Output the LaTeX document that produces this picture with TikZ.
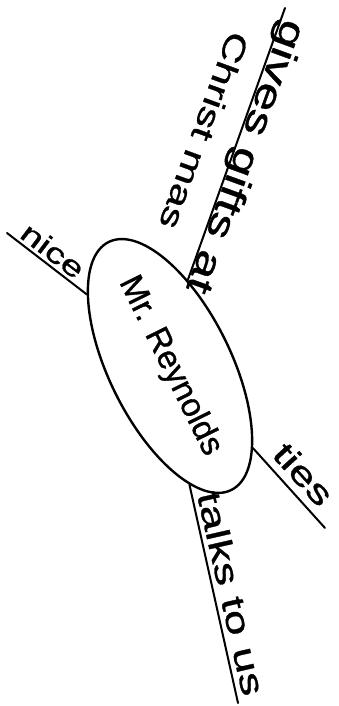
\documentclass[tikz,border=0pt]{standalone}
\usepackage{fontspec}
\setmainfont[FakeBold=1]{Liberation Sans}
\newfontfamily\hand[FakeStretch=1.4, FakeBold=1]{Liberation Sans}
\usetikzlibrary{shapes.geometric}

\begin{document}
\begin{tikzpicture}[x=1pt, y=1pt]
  \tikzset{
    branch/.style={line width=2pt, line cap=round},
    words/.style={inner sep=0pt, anchor=base, font=\hand\fontsize{#1}{#1}\selectfont}
  }
  \useasboundingbox (0,0) rectangle (338,706);

  % the bubble in the middle
  \node[draw, ellipse, line width=2.4pt, minimum width=246pt, minimum height=122pt,
        inner sep=0pt, rotate=-63.7, font=\fontsize{33}{36}\selectfont]
    (reynolds) at (170,340) {Mr. Reynolds};

  % loose ends of the branches
  \coordinate (niceend)  at (7,473);
  \coordinate (giftsend) at (285,698);
  \coordinate (tiesend)  at (325,178);
  \coordinate (talksend) at (238,3);

  \draw[branch] (reynolds.-157.6) -- (niceend);
  \draw[branch] (reynolds.142.8)  -- (giftsend);
  \draw[branch] (reynolds.19.1)   -- (tiesend);
  \draw[branch] (reynolds.-17.6)  -- (talksend);

  % words along the branches
  \node[words=28, rotate=-37.3]  (nice)  at (47,447.5) {nice};
  \node[words=37, rotate=-109.9] (gifts) at (235,553)  {gives gifts at};
  \node[words=31, rotate=-110]   (xmas)  at (194,579)  {Christ mas};
  \node[words=33, rotate=-47.8]  (ties)  at (295,224)  {ties};
  \node[words=33, rotate=-77.2]  (talks) at (220,110)  {talks to us};

\end{tikzpicture}
\end{document}
